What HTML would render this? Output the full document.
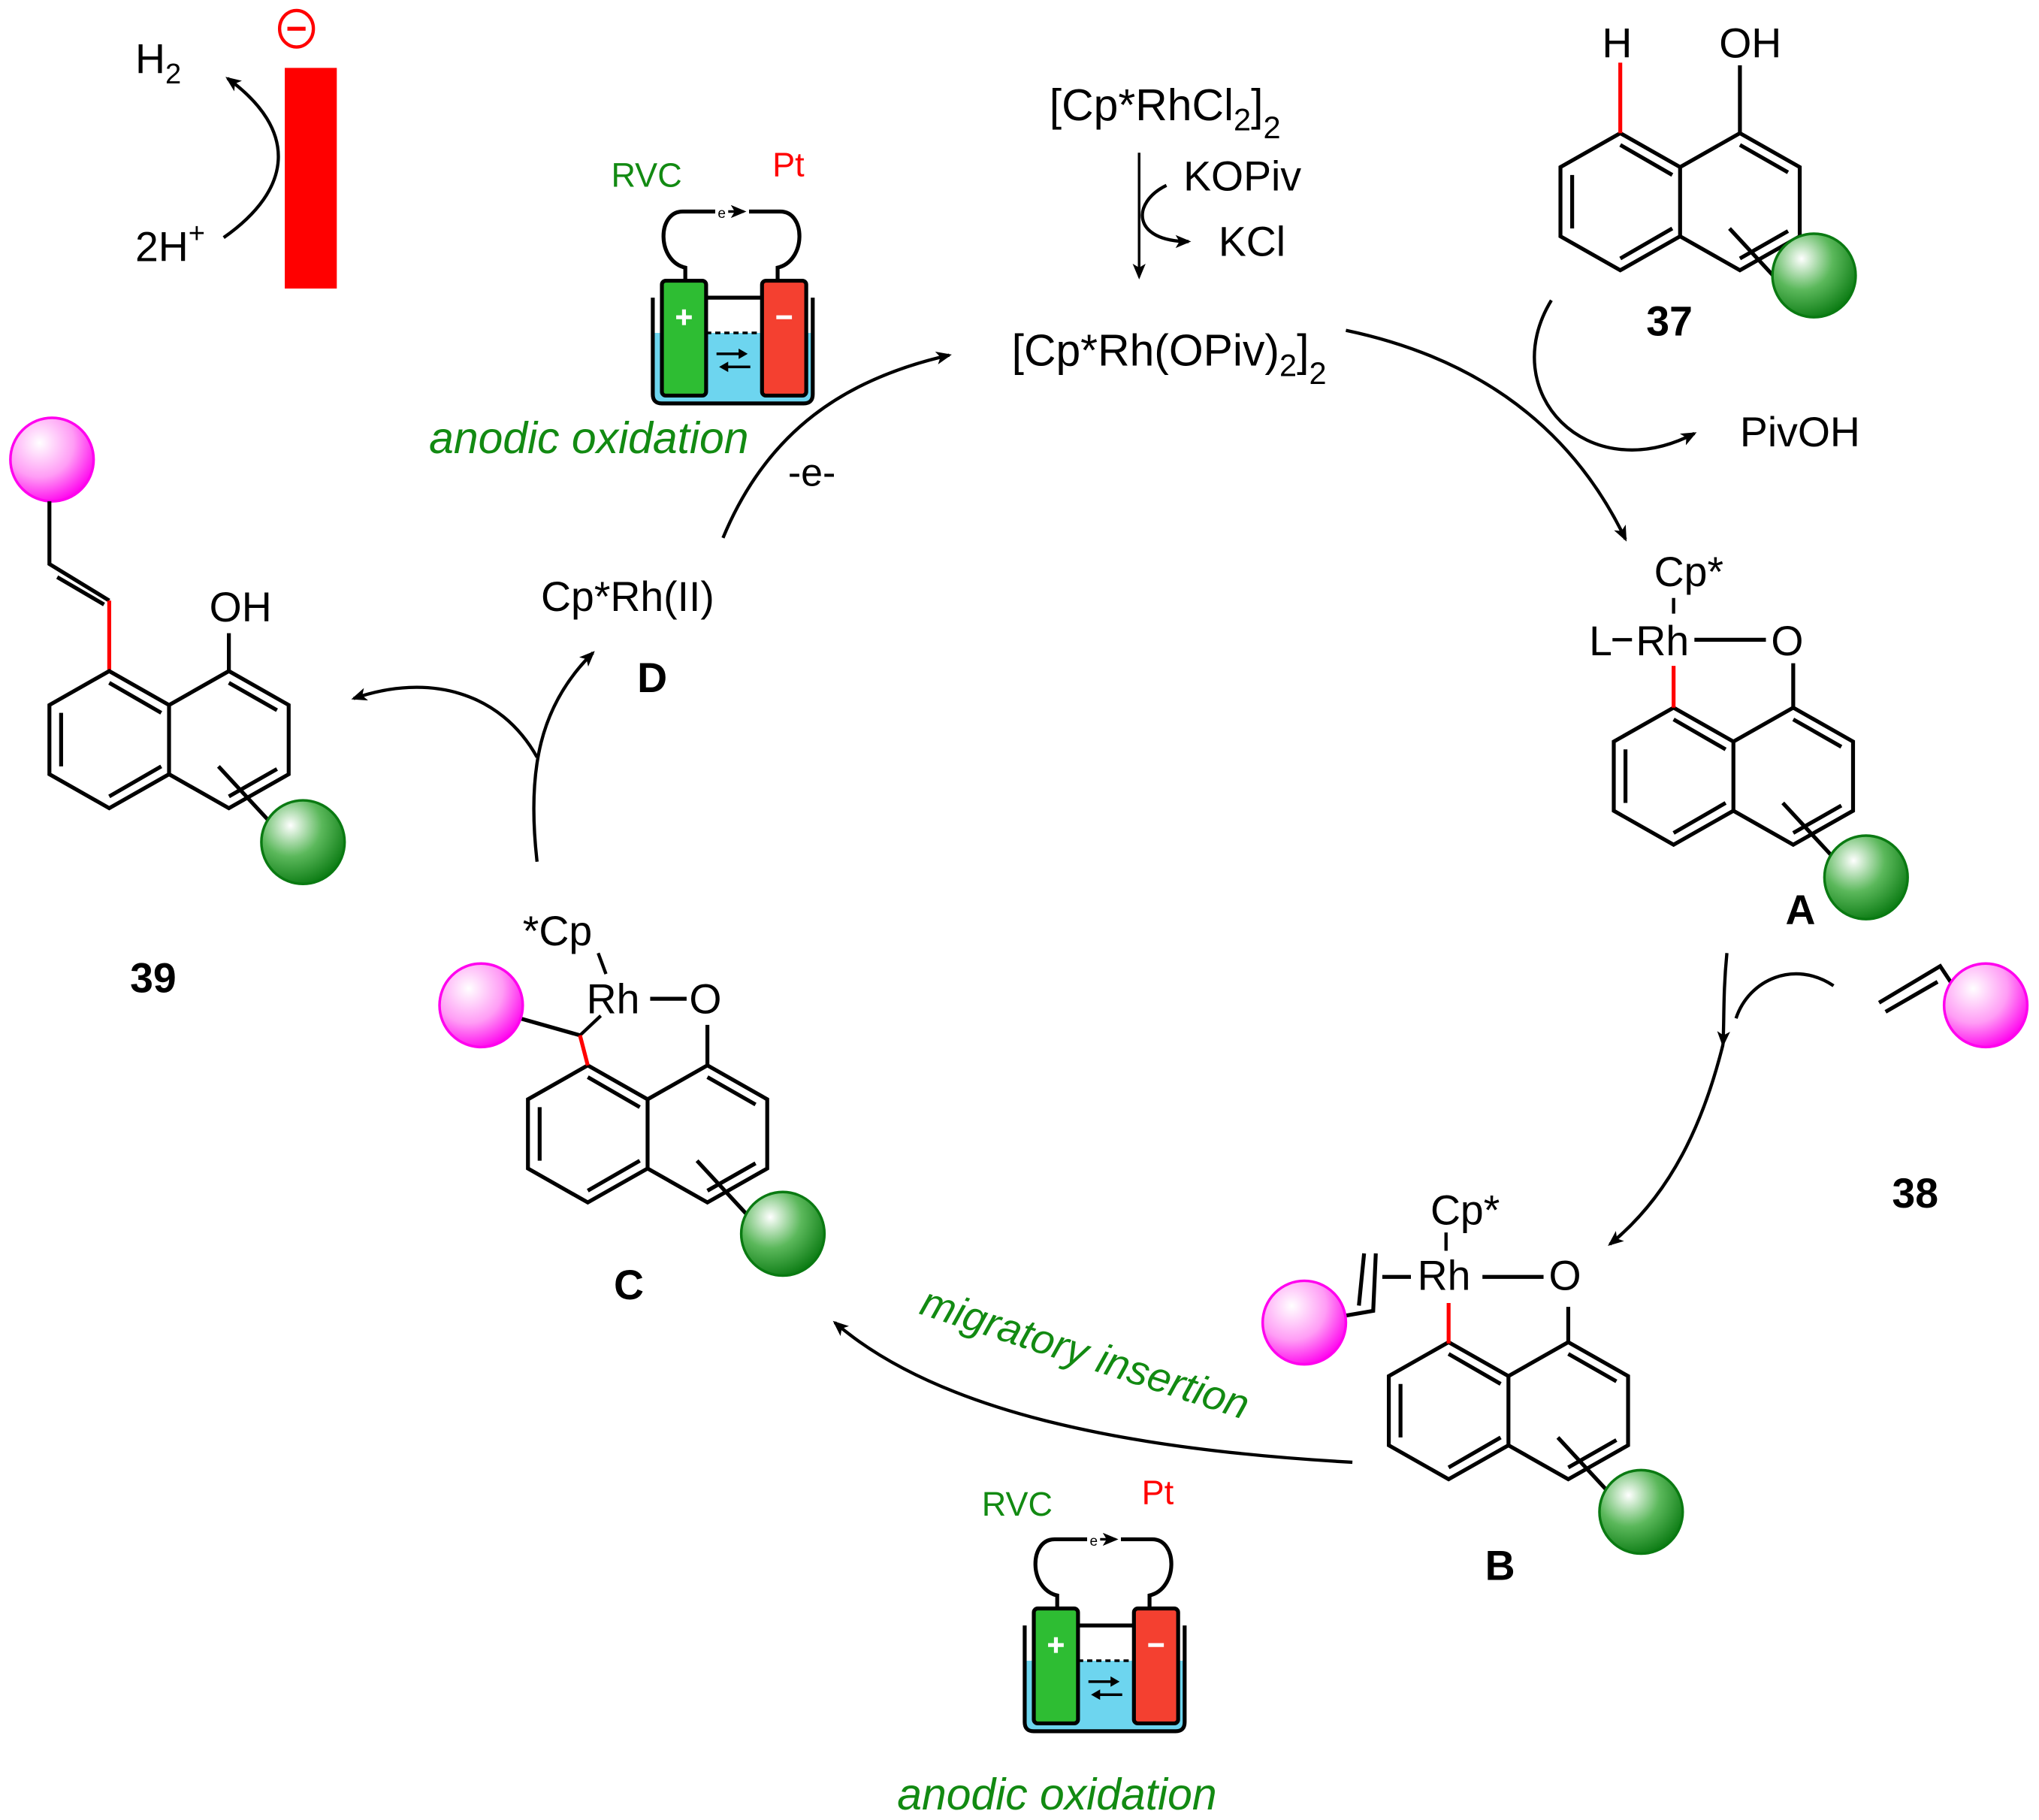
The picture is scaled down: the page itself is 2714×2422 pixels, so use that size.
<!DOCTYPE html>
<html><head><meta charset="utf-8"><style>html,body{margin:0;padding:0;background:#fff}svg{display:block}</style></head>
<body>
<svg width="2714" height="2422" viewBox="0 0 1568 1394" preserveAspectRatio="none" xmlns="http://www.w3.org/2000/svg" font-family="Liberation Sans, Arial, sans-serif">
<defs>
<radialGradient id="gg" cx="0.35" cy="0.3" r="0.75"><stop offset="0" stop-color="#ffffff"/><stop offset="0.5" stop-color="#5bb85b"/><stop offset="1" stop-color="#0a7a12"/></radialGradient>
<radialGradient id="pg" cx="0.35" cy="0.3" r="0.75"><stop offset="0" stop-color="#ffffff"/><stop offset="0.55" stop-color="#ff9cf5"/><stop offset="1" stop-color="#ff00ee"/></radialGradient>
<marker id="ah" viewBox="0 0 12 10" refX="10" refY="5" markerWidth="12" markerHeight="10" markerUnits="userSpaceOnUse" orient="auto"><path d="M0,0 L12,5 L0,10 L3,5 z" fill="#000"/></marker>
<g id="naph" fill="none" stroke="#000" stroke-width="3" stroke-linejoin="miter">
<path d="M0,0 L-46,-26 L-92,0 L-92,53 L-46,79 L0,53 Z"/>
<path d="M0,0 L46,-26 L92,0 L92,53 L46,79 L0,53"/>
<path d="M-46,-17 L-6,6 M-83,6 L-83,47 M-46,70 L-6,47 M46,-17 L83,4 M46,70 L83,49"/>
<path d="M38,47 L78,90"/>
</g>
<g id="cell">
<path d="M27,60 V50 C5,45 5,7 25,7 H50 M76,7 H100 C120,7 120,45 98,50 V60" fill="none" stroke="#000" stroke-width="3"/>
<text x="52" y="12" font-size="11" fill="#000">e</text>
<path d="M60,7 H72" stroke="#000" stroke-width="2" marker-end="url(#ah)"/>
<rect x="3" y="100" width="121" height="53" fill="#6dd5ef"/>
<path d="M2,73 V147 q0,7 7,7 H118 q7,0 7,-7 V73 M43,73 H85" fill="none" stroke="#000" stroke-width="3"/>
<path d="M43,100 H85" stroke="#000" stroke-width="2" stroke-dasharray="4,3"/>
<rect x="9" y="60" width="34" height="88" rx="3" fill="#2ebd33" stroke="#000" stroke-width="3"/>
<rect x="86" y="60" width="34" height="88" rx="3" fill="#f44030" stroke="#000" stroke-width="3"/>
<path d="M20,88 H32 M26,82 V94" stroke="#fff" stroke-width="3"/>
<path d="M97,88 H109" stroke="#fff" stroke-width="3"/>
<path d="M51,116 H70 M77,126 H58" stroke="#000" stroke-width="2"/>
<path d="M68,112 L75,116 L68,120 z M60,122 L53,126 L60,130 z" fill="#000"/>
</g>
</defs>

<text x="104" y="56" font-size="32">H<tspan font-size="22" dy="8">2</tspan></text>
<text x="104" y="200" font-size="32">2H<tspan font-size="22" dy="-14">+</tspan></text>
<rect x="219" y="52" width="40" height="169" fill="#ff0000"/>
<ellipse cx="228" cy="22" rx="13" ry="14" fill="none" stroke="#ff0000" stroke-width="2.5"/>
<path d="M221,22 H235" stroke="#ff0000" stroke-width="3"/>
<path d="M172,182 C225,145 230,100 175,60" fill="none" stroke="#000" stroke-width="2.5" marker-end="url(#ah)"/>

<text x="470" y="143" font-size="26" fill="#128a12">RVC</text>
<text x="594" y="135" font-size="26" fill="#ff0000">Pt</text>
<use href="#cell" x="500" y="155"/>
<text x="330" y="347" font-size="34" font-style="italic" fill="#128a12">anodic oxidation</text>
<text x="606" y="372" font-size="30">-e-</text>

<text x="807" y="92" font-size="34">[Cp*RhCl<tspan font-size="24" dy="8">2</tspan><tspan dy="-8">]</tspan><tspan font-size="24" dy="14">2</tspan></text>
<text x="910" y="146" font-size="32">KOPiv</text>
<text x="937" y="196" font-size="32">KCl</text>
<path d="M876,117 V212" stroke="#000" stroke-width="2" marker-end="url(#ah)"/>
<path d="M897,142 C870,155 870,185 914,185" fill="none" stroke="#000" stroke-width="2.5" marker-end="url(#ah)"/>
<text x="778" y="280" font-size="34">[Cp*Rh(OPiv)<tspan font-size="24" dy="8">2</tspan><tspan dy="-8">]</tspan><tspan font-size="24" dy="14">2</tspan></text>

<use href="#naph" x="1292" y="128"/>
<path d="M1246,102 V48" stroke="#ff0000" stroke-width="3"/>
<path d="M1338,102 V50" stroke="#000" stroke-width="3"/>
<text x="1232" y="44" font-size="32">H</text>
<text x="1322" y="44" font-size="32">OH</text>
<circle cx="1395" cy="211" r="32" fill="url(#gg)" stroke="#0a7a12" stroke-width="2"/>
<text x="1266" y="257" font-size="32" font-weight="bold">37</text>
<path d="M1193,230 C1150,300 1220,375 1303,332" fill="none" stroke="#000" stroke-width="2.5" marker-end="url(#ah)"/>
<text x="1338" y="342" font-size="32">PivOH</text>

<path d="M1035,253 C1140,275 1210,330 1250,413" fill="none" stroke="#000" stroke-width="2.5" marker-end="url(#ah)"/>

<text x="1272" y="449" font-size="32">Cp*</text>
<path d="M1287,458 V470" stroke="#000" stroke-width="2.5"/>
<text x="1222" y="502" font-size="32">L</text>
<path d="M1240,490 H1255" stroke="#000" stroke-width="2.5"/>
<text x="1258" y="502" font-size="32">Rh</text>
<path d="M1303,490 H1358" stroke="#000" stroke-width="3"/>
<text x="1362" y="502" font-size="32">O</text>
<use href="#naph" x="1333" y="568"/>
<path d="M1287,542 V510" stroke="#ff0000" stroke-width="3"/>
<path d="M1379,542 V508" stroke="#000" stroke-width="3"/>
<circle cx="1435" cy="672" r="32" fill="url(#gg)" stroke="#0a7a12" stroke-width="2"/>
<text x="1373" y="708" font-size="32" font-weight="bold">A</text>

<path d="M1328,730 C1325,760 1326,780 1325,800" fill="none" stroke="#000" stroke-width="2.5" marker-end="url(#ah)"/>
<path d="M1410,755 C1380,735 1345,750 1335,780" fill="none" stroke="#000" stroke-width="2.5"/>
<path d="M1445,768 L1492,740 L1500,752 M1450,775 L1490,752" fill="none" stroke="#000" stroke-width="3"/>
<circle cx="1527" cy="770" r="32" fill="url(#pg)" stroke="#ff00ee" stroke-width="2"/>
<text x="1455" y="925" font-size="32" font-weight="bold">38</text>
<path d="M1325,800 C1310,860 1285,915 1238,953" fill="none" stroke="#000" stroke-width="2.5" marker-end="url(#ah)"/>

<text x="1100" y="938" font-size="32">Cp*</text>
<path d="M1112,944 V958" stroke="#000" stroke-width="2.5"/>
<text x="1090" y="988" font-size="32">Rh</text>
<path d="M1140,978 H1187" stroke="#000" stroke-width="3"/>
<text x="1191" y="988" font-size="32">O</text>
<path d="M1063,978 H1085" stroke="#000" stroke-width="3"/>
<path d="M1049,960 L1045,1000 M1058,960 L1056,1004 L1033,1008" fill="none" stroke="#000" stroke-width="3"/>
<circle cx="1003" cy="1013" r="32" fill="url(#pg)" stroke="#ff00ee" stroke-width="2"/>
<use href="#naph" x="1160" y="1054"/>
<path d="M1114,1029 V998" stroke="#ff0000" stroke-width="3"/>
<path d="M1206,1029 V1001" stroke="#000" stroke-width="3"/>
<circle cx="1262" cy="1158" r="32" fill="url(#gg)" stroke="#0a7a12" stroke-width="2"/>
<text x="1142" y="1210" font-size="32" font-weight="bold">B</text>

<path d="M1040,1120 C860,1110 720,1080 642,1013" fill="none" stroke="#000" stroke-width="2.5" marker-end="url(#ah)"/>
<text x="0" y="0" font-size="32" font-style="italic" fill="#128a12" transform="translate(706,1006) rotate(18)">migratory insertion</text>

<text x="755" y="1161" font-size="26" fill="#128a12">RVC</text>
<text x="878" y="1152" font-size="26" fill="#ff0000">Pt</text>
<use href="#cell" x="786" y="1172"/>
<text x="690" y="1386" font-size="34" font-style="italic" fill="#128a12">anodic oxidation</text>

<text x="402" y="724" font-size="32">*Cp</text>
<path d="M460,730 L466,746" stroke="#000" stroke-width="2.5"/>
<text x="451" y="776" font-size="32">Rh</text>
<path d="M500,765 H528" stroke="#000" stroke-width="3"/>
<text x="530" y="776" font-size="32">O</text>
<path d="M446,793 L462,778" stroke="#000" stroke-width="2.5"/>
<path d="M400,780 L446,793" stroke="#000" stroke-width="3"/>
<circle cx="370" cy="770" r="32" fill="url(#pg)" stroke="#ff00ee" stroke-width="2"/>
<use href="#naph" x="498" y="842"/>
<path d="M452,816 L446,793" stroke="#ff0000" stroke-width="3"/>
<path d="M544,816 V785" stroke="#000" stroke-width="3"/>
<circle cx="602" cy="945" r="32" fill="url(#gg)" stroke="#0a7a12" stroke-width="2"/>
<text x="472" y="995" font-size="32" font-weight="bold">C</text>

<path d="M413,660 C405,590 415,540 456,500" fill="none" stroke="#000" stroke-width="2.5" marker-end="url(#ah)"/>
<path d="M413,580 C385,530 330,515 272,535" fill="none" stroke="#000" stroke-width="2.5" marker-end="url(#ah)"/>
<text x="416" y="468" font-size="32">Cp*Rh(II)</text>
<text x="490" y="530" font-size="32" font-weight="bold">D</text>
<path d="M556,412 C590,330 650,290 730,272" fill="none" stroke="#000" stroke-width="2.5" marker-end="url(#ah)"/>

<circle cx="40" cy="352" r="32" fill="url(#pg)" stroke="#ff00ee" stroke-width="2"/>
<path d="M38,384 V432 L84,460" fill="none" stroke="#000" stroke-width="3"/>
<path d="M44,442 L80,463" stroke="#000" stroke-width="3"/>
<path d="M84,460 V513" stroke="#ff0000" stroke-width="3"/>
<use href="#naph" x="130" y="540"/>
<path d="M176,514 V485" stroke="#000" stroke-width="3"/>
<text x="161" y="476" font-size="32">OH</text>
<circle cx="233" cy="645" r="32" fill="url(#gg)" stroke="#0a7a12" stroke-width="2"/>
<text x="100" y="760" font-size="32" font-weight="bold">39</text>
</svg>
</body></html>
